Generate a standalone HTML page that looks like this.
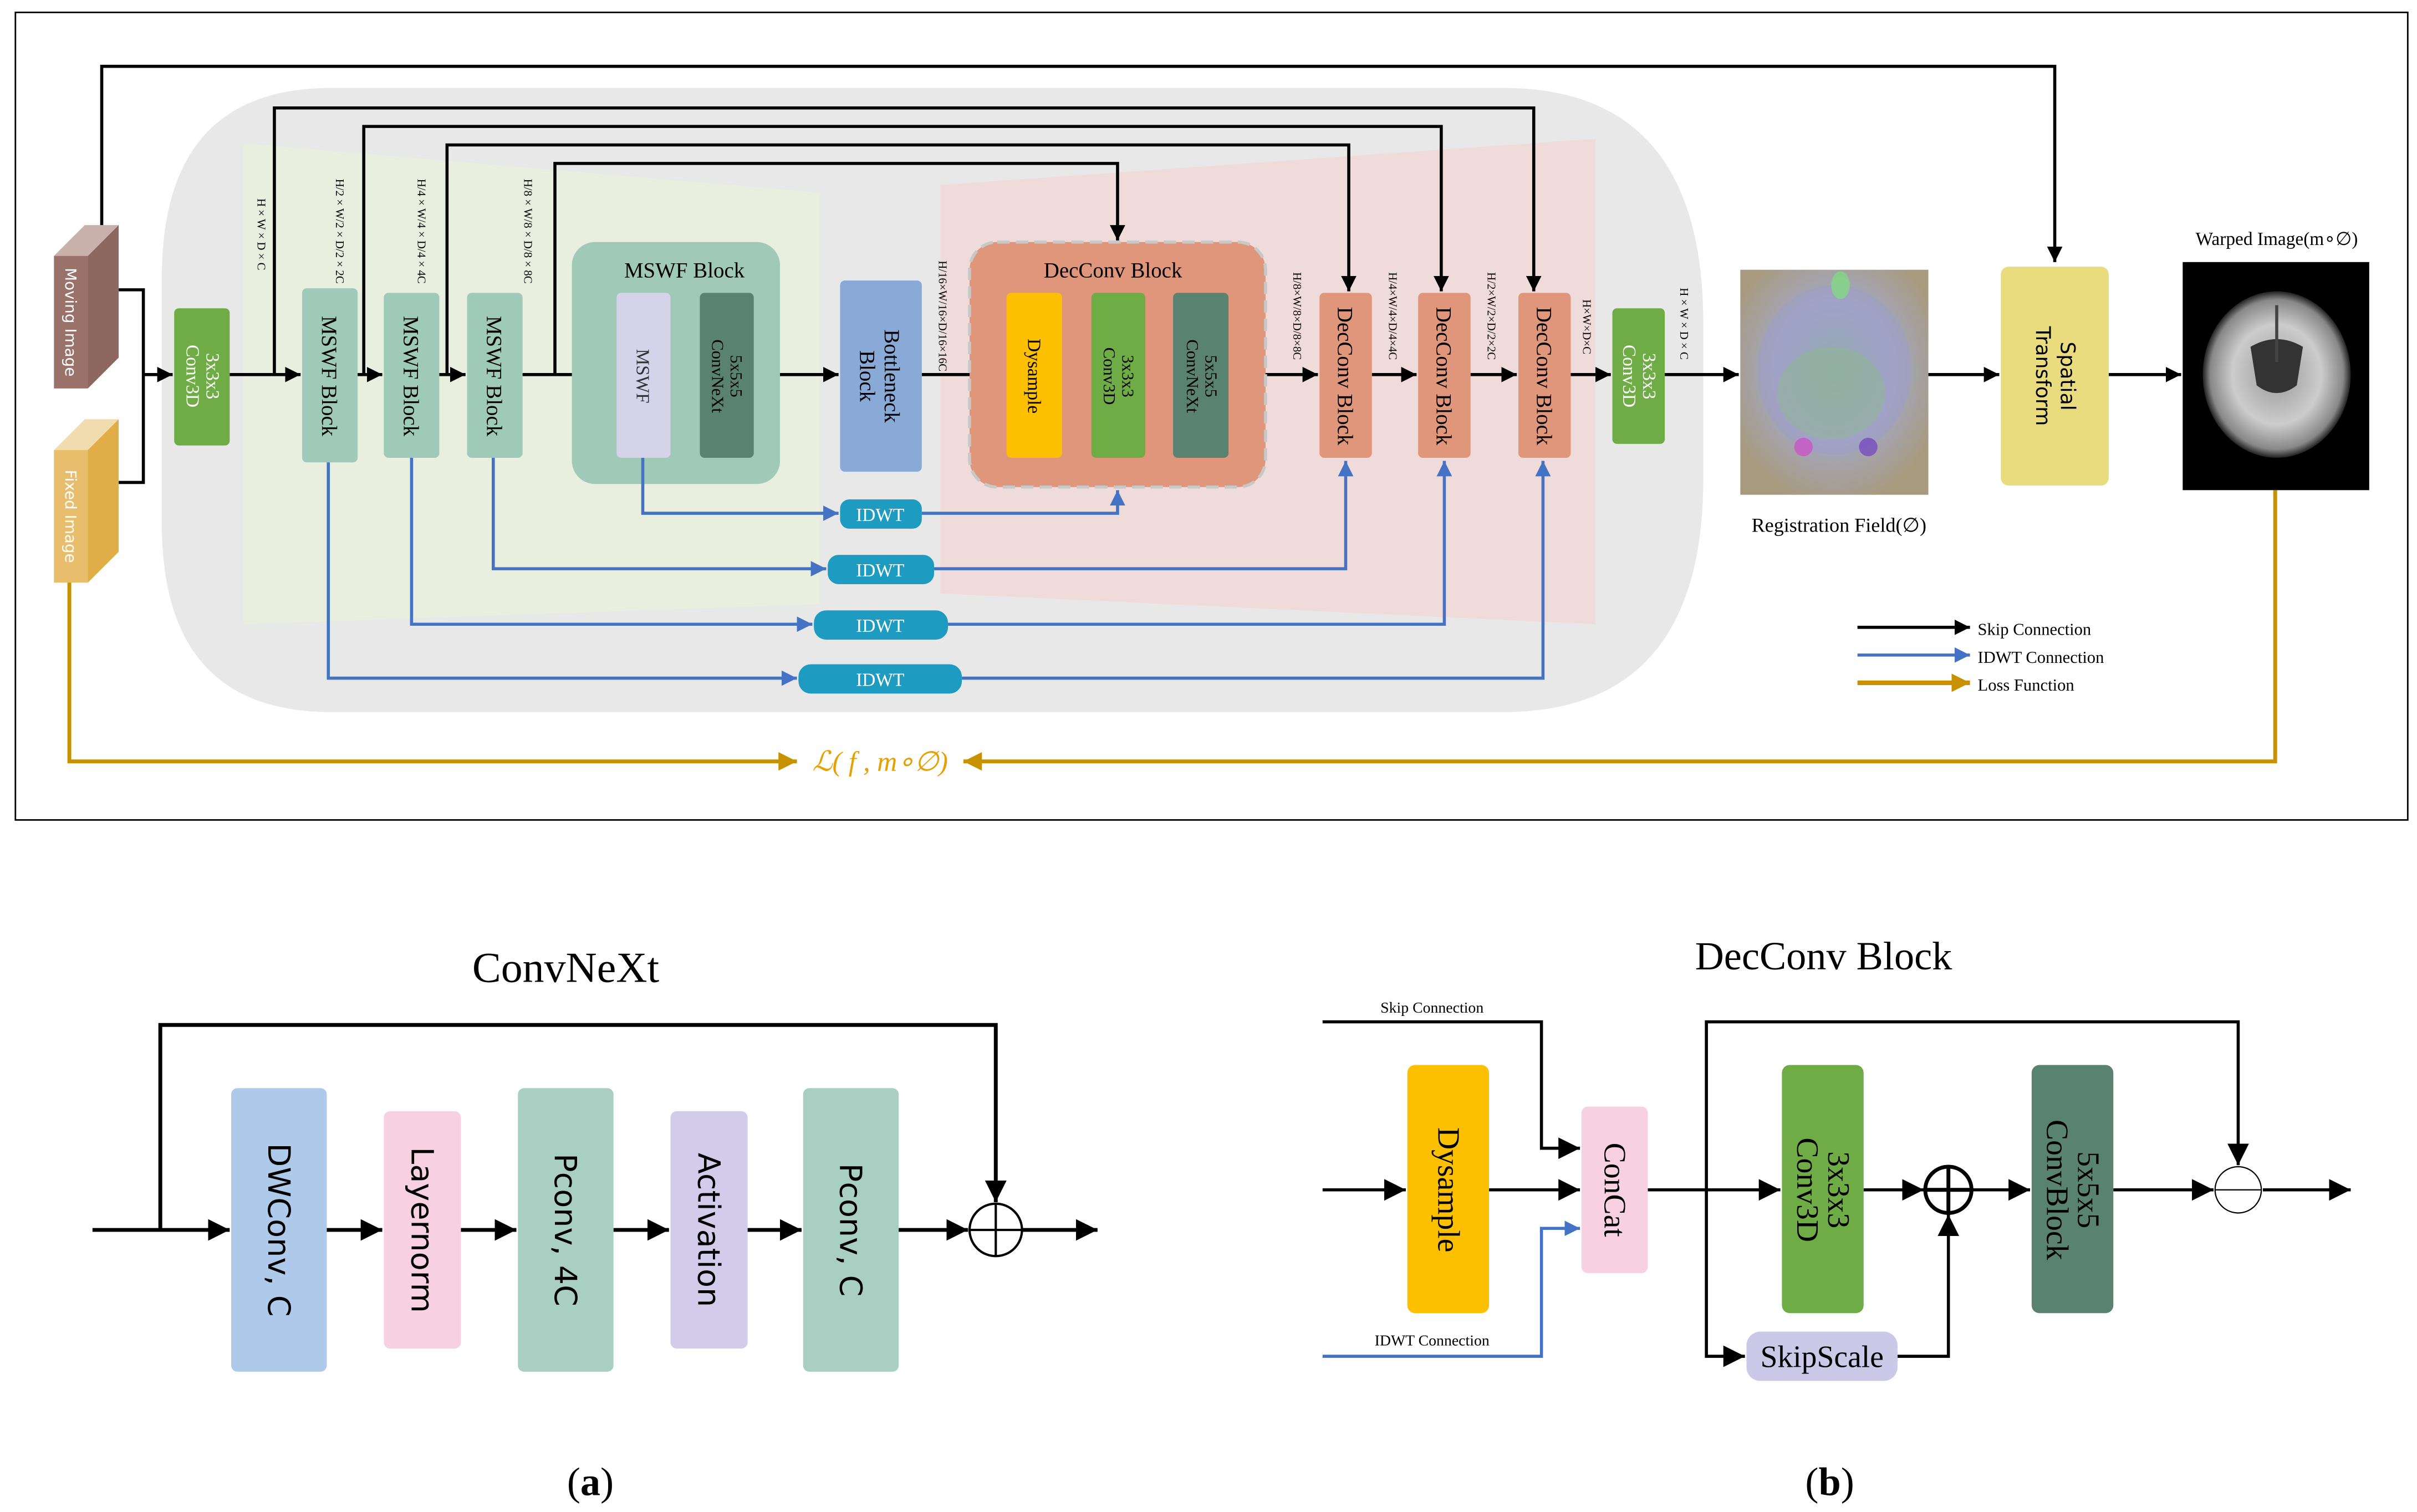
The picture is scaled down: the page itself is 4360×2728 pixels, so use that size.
<!DOCTYPE html>
<html><head><meta charset="utf-8"><style>
html,body{margin:0;padding:0;background:#fff}
svg{display:block}
.s{font-family:"Liberation Serif",serif}
.a{font-family:"DejaVu Sans","Liberation Sans",sans-serif}
</style></head><body>
<svg width="4360" height="2728" viewBox="0 0 1568 981" xmlns="http://www.w3.org/2000/svg">
<defs>
<marker id="k" markerUnits="userSpaceOnUse" markerWidth="12" markerHeight="12" refX="10" refY="5" orient="auto"><path d="M0,0 L10,5 L0,10 z" fill="#000"/></marker>
<marker id="kb" markerUnits="userSpaceOnUse" markerWidth="16" markerHeight="16" refX="14" refY="7" orient="auto"><path d="M0,0 L14,7 L0,14 z" fill="#000"/></marker>
<marker id="b" markerUnits="userSpaceOnUse" markerWidth="12" markerHeight="12" refX="10" refY="5" orient="auto"><path d="M0,0 L10,5 L0,10 z" fill="#4472c4"/></marker>
<marker id="o" markerUnits="userSpaceOnUse" markerWidth="14" markerHeight="14" refX="12" refY="6" orient="auto"><path d="M0,0 L12,6 L0,12 z" fill="#c79100"/></marker>
<radialGradient id="rf" cx="50%" cy="45%" r="60%">
<stop offset="0" stop-color="#8fb39a"/><stop offset="0.5" stop-color="#a3a8c4"/><stop offset="1" stop-color="#a89a7e"/></radialGradient>
<radialGradient id="br" cx="50%" cy="50%" r="50%"><stop offset="0" stop-color="#999"/><stop offset="0.6" stop-color="#ccc"/><stop offset="0.9" stop-color="#888"/><stop offset="1" stop-color="#222"/></radialGradient>
</defs>
<rect x="10" y="8" width="1552" height="524" fill="#fff" stroke="#000" stroke-width="1"/>
<path d="M215,57 L975,57 Q1105,57 1105,210 L1105,310 Q1105,462 975,462 L215,462 Q105,462 105,340 L105,180 Q105,57 215,57 Z" fill="#e8e8e8"/>
<polygon points="158,93 532,125 532,392 158,405" fill="#e9efdf"/>
<polygon points="610,120 1035,90 1035,405 610,385" fill="#efdcda"/>

<g fill="none" stroke="#000" stroke-width="2">
<polyline points="66,146 66,43 1333,43 1333,170" marker-end="url(#k)"/>
<polyline points="178,243 178,70 995,70 995,189" marker-end="url(#k)"/>
<polyline points="236,243 236,82 935,82 935,189" marker-end="url(#k)"/>
<polyline points="290,243 290,94 875,94 875,189" marker-end="url(#k)"/>
<polyline points="360,243 360,106 725,106 725,156" marker-end="url(#k)"/>
<polyline points="77,188 93,188 93,313 77,313"/>
<line x1="93" y1="243" x2="112" y2="243" marker-end="url(#k)"/>
<line x1="149" y1="243" x2="195" y2="243" marker-end="url(#k)"/>
<line x1="232" y1="243" x2="248" y2="243" marker-end="url(#k)"/>
<line x1="285" y1="243" x2="302" y2="243" marker-end="url(#k)"/>
<line x1="339" y1="243" x2="399" y2="243" marker-end="url(#k)"/>
<line x1="435" y1="243" x2="453" y2="243" marker-end="url(#k)"/>
<line x1="489" y1="243" x2="544" y2="243" marker-end="url(#k)"/>
<line x1="598" y1="243" x2="652" y2="243" marker-end="url(#k)"/>
<line x1="689" y1="243" x2="707" y2="243" marker-end="url(#k)"/>
<line x1="743" y1="243" x2="760" y2="243" marker-end="url(#k)"/>
<line x1="797" y1="243" x2="855" y2="243" marker-end="url(#k)"/>
<line x1="890" y1="243" x2="919" y2="243" marker-end="url(#k)"/>
<line x1="954" y1="243" x2="984" y2="243" marker-end="url(#k)"/>
<line x1="1019" y1="243" x2="1045" y2="243" marker-end="url(#k)"/>
<line x1="1080" y1="243" x2="1128" y2="243" marker-end="url(#k)"/>
<line x1="1251" y1="243" x2="1297" y2="243" marker-end="url(#k)"/>
<line x1="1368" y1="243" x2="1415" y2="243" marker-end="url(#k)"/>
</g>

<polygon points="35,166 55,146 77,146 57,166" fill="#c8b0ab"/>
<polygon points="57,166 77,146 77,232 57,252" fill="#8e6860"/>
<rect x="35" y="166" width="22" height="86" fill="#9a726a"/>
<g transform="translate(46,209) rotate(90)"><text class="a" font-size="10" fill="#fff" text-anchor="middle" dy="3.5">Moving Image</text></g>
<polygon points="35,292 55,272 77,272 57,292" fill="#f0dcaf"/>
<polygon points="57,292 77,272 77,358 57,378" fill="#e0ad49"/>
<rect x="35" y="292" width="22" height="86" fill="#e8be6c"/>
<g transform="translate(46,335) rotate(90)"><text class="a" font-size="10" fill="#fff" text-anchor="middle" dy="3.5">Fixed Image</text></g>

<rect x="113" y="200" width="36" height="89" rx="3" fill="#6fac46"/>
<g transform="translate(131,244) rotate(90)"><text class="s" font-size="12" fill="#fff" text-anchor="middle"><tspan x="0" dy="-3">3x3x3</tspan><tspan x="0" dy="13">Conv3D</tspan></text></g>
<rect x="1046" y="200" width="34" height="88" rx="3" fill="#6fac46"/>
<g transform="translate(1063,244) rotate(90)"><text class="s" font-size="12" fill="#fff" text-anchor="middle"><tspan x="0" dy="-3">3x3x3</tspan><tspan x="0" dy="13">Conv3D</tspan></text></g>

<rect x="196" y="187" width="36" height="113" rx="3" fill="#9fc9b8"/>
<rect x="249" y="190" width="36" height="107" rx="3" fill="#9fc9b8"/>
<rect x="303" y="190" width="36" height="107" rx="3" fill="#9fc9b8"/>
<g class="s" font-size="14" text-anchor="middle">
<g transform="translate(214,244) rotate(90)"><text dy="5">MSWF Block</text></g>
<g transform="translate(267,244) rotate(90)"><text dy="5">MSWF Block</text></g>
<g transform="translate(321,244) rotate(90)"><text dy="5">MSWF Block</text></g>
</g>
<g class="s" font-size="7.5" text-anchor="middle">
<g transform="translate(170,152) rotate(90)"><text dy="3">H × W × D × C</text></g>
<g transform="translate(221,150) rotate(90)"><text dy="3">H/2 × W/2 × D/2 × 2C</text></g>
<g transform="translate(274,150) rotate(90)"><text dy="3">H/4 × W/4 × D/4 × 4C</text></g>
<g transform="translate(343,150) rotate(90)"><text dy="3">H/8 × W/8 × D/8 × 8C</text></g>
<g transform="translate(612,205) rotate(90)"><text dy="3">H/16×W/16×D/16×16C</text></g>
<g transform="translate(842,205) rotate(90)"><text dy="3">H/8×W/8×D/8×8C</text></g>
<g transform="translate(904,205) rotate(90)"><text dy="3">H/4×W/4×D/4×4C</text></g>
<g transform="translate(968,205) rotate(90)"><text dy="3">H/2×W/2×D/2×2C</text></g>
<g transform="translate(1030,212) rotate(90)"><text dy="3">H×W×D×C</text></g>
<g transform="translate(1093,210) rotate(90)"><text dy="3">H × W × D × C</text></g>
</g>

<rect x="371" y="157" width="135" height="157" rx="15" fill="#a0c9b8"/>
<text class="s" x="444" y="180" font-size="14" text-anchor="middle">MSWF Block</text>
<rect x="400" y="190" width="35" height="107" rx="3" fill="#d5d3ea"/>
<rect x="454" y="190" width="35" height="107" rx="3" fill="#5a8270"/>
<g transform="translate(417,244) rotate(90)"><text class="s" font-size="12" text-anchor="middle" dy="4" fill="#333">MSWF</text></g>
<g transform="translate(471,244) rotate(90)"><text class="s" font-size="11" text-anchor="middle"><tspan x="0" dy="-3">5x5x5</tspan><tspan x="0" dy="12">ConvNeXt</tspan></text></g>

<rect x="545" y="182" width="53" height="124" rx="3" fill="#89a9d6"/>
<g transform="translate(571,244) rotate(90)"><text class="s" font-size="14" text-anchor="middle"><tspan x="0" dy="-3">Bottleneck</tspan><tspan x="0" dy="16">Block</tspan></text></g>

<rect x="629" y="157" width="192" height="159" rx="18" fill="#e0967a" stroke="#c8c8c8" stroke-width="2" stroke-dasharray="8,4"/>
<text class="s" x="722" y="180" font-size="14" text-anchor="middle">DecConv Block</text>
<rect x="653" y="190" width="36" height="107" rx="3" fill="#fdc000"/>
<rect x="708" y="190" width="35" height="107" rx="3" fill="#6fac46"/>
<rect x="761" y="190" width="36" height="107" rx="3" fill="#5a8270"/>
<g transform="translate(671,244) rotate(90)"><text class="s" font-size="12" text-anchor="middle" dy="4">Dysample</text></g>
<g transform="translate(725,244) rotate(90)"><text class="s" font-size="11" text-anchor="middle"><tspan x="0" dy="-3">3x3x3</tspan><tspan x="0" dy="12">Conv3D</tspan></text></g>
<g transform="translate(779,244) rotate(90)"><text class="s" font-size="11" text-anchor="middle"><tspan x="0" dy="-3">5x5x5</tspan><tspan x="0" dy="12">ConvNeXt</tspan></text></g>

<rect x="856" y="190" width="34" height="107" rx="3" fill="#e0967a"/>
<rect x="920" y="190" width="34" height="107" rx="3" fill="#e0967a"/>
<rect x="985" y="190" width="34" height="107" rx="3" fill="#e0967a"/>
<g class="s" font-size="14" text-anchor="middle">
<g transform="translate(873,244) rotate(90)"><text dy="5">DecConv Block</text></g>
<g transform="translate(937,244) rotate(90)"><text dy="5">DecConv Block</text></g>
<g transform="translate(1002,244) rotate(90)"><text dy="5">DecConv Block</text></g>
</g>

<g fill="none" stroke="#4472c4" stroke-width="2">
<polyline points="417,297 417,333 544,333" marker-end="url(#b)"/>
<polyline points="598,333 725,333 725,318" marker-end="url(#b)"/>
<polyline points="320,297 320,369 536,369" marker-end="url(#b)"/>
<polyline points="606,369 873,369 873,299" marker-end="url(#b)"/>
<polyline points="267,297 267,405 527,405" marker-end="url(#b)"/>
<polyline points="615,405 937,405 937,299" marker-end="url(#b)"/>
<polyline points="213,300 213,440 517,440" marker-end="url(#b)"/>
<polyline points="624,440 1001,440 1001,299" marker-end="url(#b)"/>
</g>
<g class="s" font-size="12" fill="#fff" text-anchor="middle">
<rect x="545" y="324" width="53" height="19" rx="6" fill="#1d9bc0"/><text x="571" y="338">IDWT</text>
<rect x="537" y="360" width="69" height="19" rx="7" fill="#1d9bc0"/><text x="571" y="374">IDWT</text>
<rect x="528" y="396" width="87" height="19" rx="8" fill="#1d9bc0"/><text x="571" y="410">IDWT</text>
<rect x="518" y="431" width="106" height="19" rx="8" fill="#1d9bc0"/><text x="571" y="445">IDWT</text>
</g>

<rect x="1129" y="175" width="122" height="146" fill="url(#rf)"/>
<ellipse cx="1190" cy="240" rx="50" ry="55" fill="#9c9cd0" opacity="0.4"/>
<ellipse cx="1188" cy="255" rx="35" ry="30" fill="#90b890" opacity="0.5"/>
<ellipse cx="1194" cy="185" rx="6" ry="9" fill="#7fe07f" opacity="0.7"/>
<circle cx="1170" cy="290" r="6" fill="#d04ac8" opacity="0.7"/>
<circle cx="1212" cy="290" r="6" fill="#7040c0" opacity="0.7"/>
<text class="s" x="1193" y="345" font-size="13" text-anchor="middle">Registration Field(∅)</text>

<rect x="1298" y="173" width="70" height="142" rx="5" fill="#e9dc7e"/>
<g transform="translate(1333,244) rotate(90)"><text class="a" font-size="13" text-anchor="middle"><tspan x="0" dy="-4">Spatial</tspan><tspan x="0" dy="16">Transform</tspan></text></g>

<rect x="1416" y="170" width="121" height="148" fill="#000"/>
<ellipse cx="1477" cy="243" rx="48" ry="54" fill="url(#br)"/>
<path d="M1460,225 Q1477,215 1494,225 L1490,250 Q1477,260 1464,250 Z" fill="#333"/>
<path d="M1477,198 L1477,235" stroke="#444" stroke-width="2"/>
<text class="s" x="1477" y="159" font-size="12" text-anchor="middle">Warped Image(m∘∅)</text>

<line x1="1205" y1="407" x2="1278" y2="407" stroke="#000" stroke-width="2" marker-end="url(#k)"/>
<line x1="1205" y1="425" x2="1278" y2="425" stroke="#4472c4" stroke-width="2" marker-end="url(#b)"/>
<line x1="1205" y1="443" x2="1278" y2="443" stroke="#c79100" stroke-width="3" marker-end="url(#o)"/>
<g class="s" font-size="11"><text x="1283" y="412">Skip Connection</text><text x="1283" y="430">IDWT Connection</text><text x="1283" y="448">Loss Function</text></g>

<g fill="none" stroke="#c79100" stroke-width="2.5">
<polyline points="45,378 45,494 517,494" marker-end="url(#o)"/>
<polyline points="1476,318 1476,494 625,494" marker-end="url(#o)"/>
</g>
<text class="s" x="571" y="500" font-size="18" font-style="italic" fill="#e6a000" text-anchor="middle">ℒ( f , m∘∅)</text>

<text class="s" x="367" y="637" font-size="28" text-anchor="middle">ConvNeXt</text>
<g fill="none" stroke="#000" stroke-width="2.5">
<line x1="60" y1="798" x2="149" y2="798" marker-end="url(#kb)"/>
<polyline points="104,798 104,665 646,665 646,780" marker-end="url(#kb)"/>
<line x1="212" y1="798" x2="248" y2="798" marker-end="url(#kb)"/>
<line x1="299" y1="798" x2="335" y2="798" marker-end="url(#kb)"/>
<line x1="398" y1="798" x2="434" y2="798" marker-end="url(#kb)"/>
<line x1="485" y1="798" x2="520" y2="798" marker-end="url(#kb)"/>
<line x1="583" y1="798" x2="628" y2="798" marker-end="url(#kb)"/>
<line x1="663" y1="798" x2="712" y2="798" marker-end="url(#kb)"/>
</g>
<circle cx="646" cy="798" r="17" fill="#fff" stroke="#000" stroke-width="1.5"/>
<line x1="629" y1="798" x2="663" y2="798" stroke="#000" stroke-width="1.5"/><line x1="646" y1="781" x2="646" y2="815" stroke="#000" stroke-width="1.5"/>
<rect x="150" y="706" width="62" height="184" rx="4" fill="#aec9ea"/>
<rect x="249" y="721" width="50" height="154" rx="4" fill="#f7d0e1"/>
<rect x="336" y="706" width="62" height="184" rx="4" fill="#a9cec2"/>
<rect x="435" y="721" width="50" height="154" rx="4" fill="#d2cbe9"/>
<rect x="521" y="706" width="62" height="184" rx="4" fill="#a9cec2"/>
<g class="a" font-size="20" text-anchor="middle">
<g transform="translate(181,798) rotate(90)"><text dy="7">DWConv, C</text></g>
<g transform="translate(274,798) rotate(90)"><text dy="7">Layernorm</text></g>
<g transform="translate(367,798) rotate(90)"><text dy="7">Pconv, 4C</text></g>
<g transform="translate(460,798) rotate(90)"><text dy="7">Activation</text></g>
<g transform="translate(552,798) rotate(90)"><text dy="7">Pconv, C</text></g>
</g>
<text class="s" x="383" y="970" font-size="26" text-anchor="middle">(<tspan font-weight="bold">a</tspan>)</text>

<text class="s" x="1183" y="629" font-size="26" text-anchor="middle">DecConv Block</text>
<text class="s" x="929" y="657" font-size="10" text-anchor="middle">Skip Connection</text>
<text class="s" x="929" y="873" font-size="10" text-anchor="middle">IDWT Connection</text>
<g fill="none" stroke="#000" stroke-width="2">
<polyline points="858,663 1000,663 1000,745 1025,745" marker-end="url(#kb)"/>
<line x1="858" y1="772" x2="912" y2="772" marker-end="url(#kb)"/>
<line x1="966" y1="772" x2="1025" y2="772" marker-end="url(#kb)"/>
<line x1="1069" y1="772" x2="1155" y2="772" marker-end="url(#kb)"/>
<polyline points="1107,772 1107,663 1452,663 1452,756" marker-end="url(#kb)"/>
<polyline points="1107,772 1107,880 1132,880" marker-end="url(#kb)"/>
<line x1="1209" y1="772" x2="1248" y2="772" marker-end="url(#kb)"/>
<polyline points="1231,880 1264,880 1264,788" marker-end="url(#kb)"/>
<line x1="1280" y1="772" x2="1317" y2="772" marker-end="url(#kb)"/>
<line x1="1371" y1="772" x2="1436" y2="772" marker-end="url(#kb)"/>
<line x1="1468" y1="772" x2="1525" y2="772" marker-end="url(#kb)"/>
</g>
<polyline points="858,880 1000,880 1000,797 1025,797" fill="none" stroke="#4472c4" stroke-width="2" marker-end="url(#b)"/>
<rect x="913" y="691" width="53" height="161" rx="5" fill="#fdc000"/>
<rect x="1026" y="718" width="43" height="108" rx="4" fill="#f7d0e1"/>
<rect x="1156" y="691" width="53" height="161" rx="5" fill="#6fac46"/>
<rect x="1318" y="691" width="53" height="161" rx="5" fill="#5a8270"/>
<rect x="1133" y="864" width="98" height="32" rx="9" fill="#cbc8e8"/>
<circle cx="1264" cy="772" r="15" fill="#fff" stroke="#000" stroke-width="2.5"/>
<line x1="1249" y1="772" x2="1279" y2="772" stroke="#000" stroke-width="2.5"/><line x1="1264" y1="757" x2="1264" y2="787" stroke="#000" stroke-width="2.5"/>
<circle cx="1452" cy="772" r="15" fill="#fff" stroke="#000" stroke-width="0.8"/>
<line x1="1437" y1="772" x2="1467" y2="772" stroke="#000" stroke-width="0.8"/>
<g class="s" font-size="20" text-anchor="middle">
<g transform="translate(939,772) rotate(90)"><text dy="6">Dysample</text></g>
<g transform="translate(1047,772) rotate(90)"><text dy="6">ConCat</text></g>
<g transform="translate(1182,772) rotate(90)"><text><tspan x="0" dy="-4">3x3x3</tspan><tspan x="0" dy="20">Conv3D</tspan></text></g>
<g transform="translate(1344,772) rotate(90)"><text><tspan x="0" dy="-4">5x5x5</tspan><tspan x="0" dy="20">ConvBlock</tspan></text></g>
<text x="1182" y="887">SkipScale</text>
</g>
<text class="s" x="1187" y="970" font-size="26" text-anchor="middle">(<tspan font-weight="bold">b</tspan>)</text>
</svg>
</body></html>
